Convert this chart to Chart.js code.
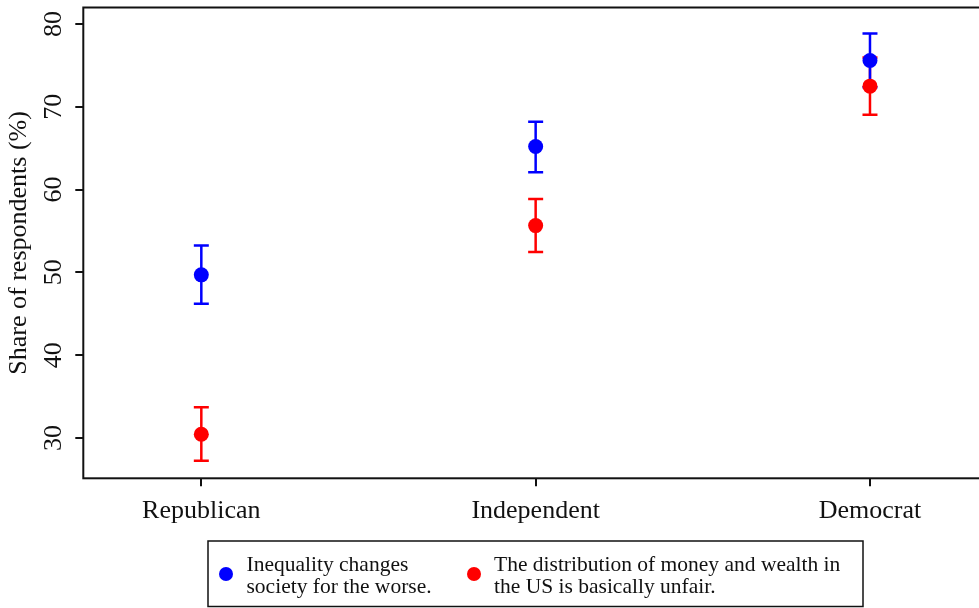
<!DOCTYPE html>
<html><head><meta charset="utf-8">
<script src="https://cdn.jsdelivr.net/npm/chart.js@4.4.1/dist/chart.umd.min.js"></script>
<style>
html,body{margin:0;padding:0;background:#fff;overflow:hidden;}
#wrap{width:979px;height:608px;overflow:hidden;position:relative;background:#fff;}
#c{position:absolute;left:0;top:0;}
</style></head><body>
<div id="wrap"><canvas id="c" width="1000" height="608" style="width:1000px;height:608px"></canvas></div>
<script>
const categories = ['Republican', 'Independent', 'Democrat'];
const seriesNames = [
  ['Inequality changes', 'society for the worse.'],
  ['The distribution of money and wealth in', 'the US is basically unfair.']
];
const worseValues = [49.7, 65.2, 75.6];
const worseLower  = [46.2, 62.1, 72.35];
const worseUpper  = [53.25, 68.2, 78.85];
const unfairValues = [30.45, 55.65, 72.5];
const unfairLower  = [27.25, 52.45, 69.05];
const unfairUpper  = [33.7, 58.85, 75.95];
const yTicks = [30, 40, 50, 60, 70, 80];
const yTitle = 'Share of respondents (%)';

const SERIF = '"Liberation Serif", "Times New Roman", serif';
const BLUE = '#0000ff', RED = '#ff0000', INK = '#111111';

function pts(vals){ return vals.map((v,i)=>({x:i+1, y:v})); }

const errorBars = {
  id:'errorBars',
  beforeDatasetsDraw(chart){
    const {ctx, scales:{x,y}} = chart;
    const order = [1,0];
    order.forEach(di=>{
      const ds = chart.data.datasets[di];
      ctx.save();
      ctx.strokeStyle = ds.backgroundColor;
      ctx.lineWidth = 2.5;
      ds.data.forEach((p,i)=>{
        const px = x.getPixelForValue(p.x);
        const lo = y.getPixelForValue(ds.lower[i]);
        const hi = y.getPixelForValue(ds.upper[i]);
        ctx.beginPath();
        ctx.moveTo(px, lo); ctx.lineTo(px, hi);
        ctx.moveTo(px-7.5, lo); ctx.lineTo(px+7.5, lo);
        ctx.moveTo(px-7.5, hi); ctx.lineTo(px+7.5, hi);
        ctx.stroke();
      });
      ctx.restore();
    });
  }
};

const frame = {
  id:'frame',
  afterDraw(chart){
    const {ctx, chartArea:a, scales:{y}} = chart;
    ctx.save();
    ctx.strokeStyle = INK; ctx.lineWidth = 2;
    ctx.strokeRect(a.left, a.top, a.right-a.left, a.bottom-a.top);
    // rotated y tick labels
    ctx.fillStyle = INK;
    ctx.font = '26px ' + SERIF;
    ctx.textAlign = 'center'; ctx.textBaseline = 'alphabetic';
    y.ticks.forEach(t=>{
      const py = y.getPixelForValue(t.value);
      ctx.save(); ctx.translate(61, py); ctx.rotate(-Math.PI/2);
      ctx.fillText(String(t.value), 0, 0);
      ctx.restore();
    });
    // legend
    const L = 208, T = 541, R = 863, B = 606.5;
    ctx.lineWidth = 1.5;
    ctx.strokeRect(L, T, R-L, B-T);
    ctx.font = '21.5px ' + SERIF;
    ctx.textAlign = 'left';
    const entries = [{dx:226, tx:246.5}, {dx:474, tx:494}];
    chart.data.datasets.forEach((ds,i)=>{
      const e = entries[i];
      ctx.fillStyle = ds.backgroundColor;
      ctx.beginPath(); ctx.arc(e.dx, 574, 7, 0, Math.PI*2); ctx.fill();
      ctx.fillStyle = INK;
      ds.label.forEach((line,k)=> ctx.fillText(line, e.tx, 571 + k*21.5));
    });
    ctx.restore();
  }
};

new Chart(document.getElementById('c'), {
  type:'scatter',
  data:{
    datasets:[
      {label: seriesNames[0], data: pts(worseValues), lower: worseLower, upper: worseUpper,
       backgroundColor: BLUE, borderColor: BLUE, pointRadius: 7.5, pointBorderWidth: 0},
      {label: seriesNames[1], data: pts(unfairValues), lower: unfairLower, upper: unfairUpper,
       backgroundColor: RED, borderColor: RED, pointRadius: 7.5, pointBorderWidth: 0}
    ]
  },
  plugins:[errorBars, frame],
  options:{
    responsive:false, animation:false,
    layout:{padding:{top:3, right:13, left:0, bottom:0}},
    plugins:{legend:{display:false}, tooltip:{enabled:false}},
    scales:{
      x:{
        type:'linear', min:0.647, max:3.35,
        afterBuildTicks: s => { s.ticks = categories.map((c,i)=>({value:i+1})); },
        afterFit: s => { s.height = 608 - 478.3; },
        border:{display:false},
        grid:{drawOnChartArea:false, drawTicks:true, tickLength:8, color:INK, lineWidth:2},
        ticks:{color:INK, font:{family:SERIF, size:26}, padding:9, maxRotation:0, minRotation:0,
               callback: v => categories[Math.round(v)-1]}
      },
      y:{
        type:'linear', min:25.12, max:82.0,
        afterBuildTicks: s => { s.ticks = yTicks.map(v=>({value:v})); },
        afterFit: s => { s.width = 83.3; },
        border:{display:false},
        grid:{drawOnChartArea:false, drawTicks:true, tickLength:8, color:INK, lineWidth:2},
        ticks:{display:false},
        title:{display:true, text:yTitle, color:INK, font:{family:SERIF, size:26, lineHeight:1.2}, padding:{top:4, bottom:0}}
      }
    }
  }
});
</script>
</body></html>
